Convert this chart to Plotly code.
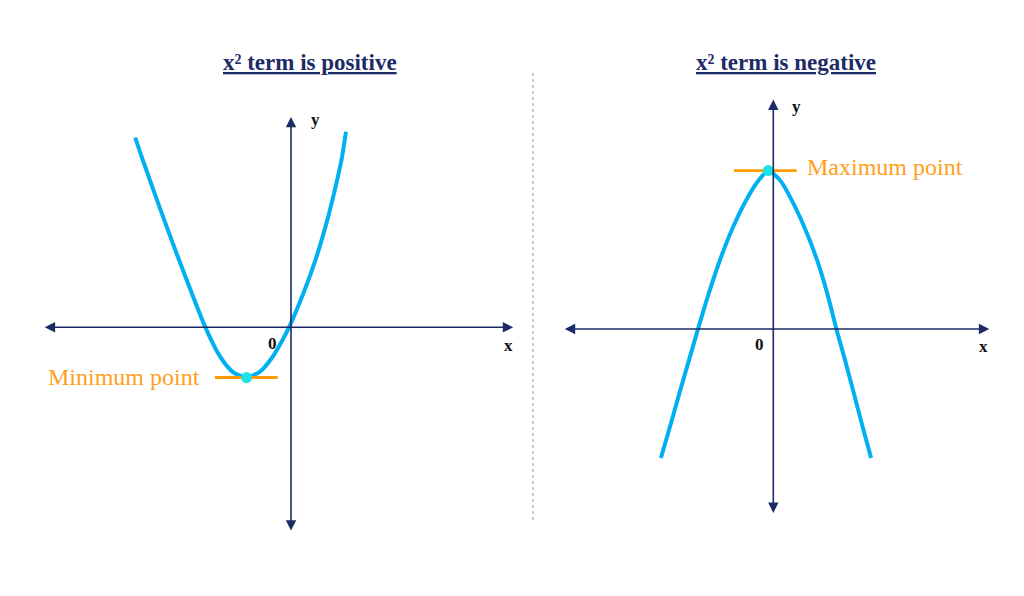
import plotly.graph_objects as go

# ---------------- data (panel coordinates, origin at axis crossing) ----------------
# Left panel: x^2 term positive (opens upward)
pos_x = [-7.79, -7.44, -6.85, -6.25, -5.63, -4.99, -4.29, -3.69, -3.24, -2.82, -2.22,
         -1.55, -0.97, -0.47, -0.09, 0.65, 1.25, 1.75, 2.17, 2.54, 2.75]
pos_y = [9.48, 8.45, 6.78, 5.12, 3.45, 1.78, 0.02, -1.22, -1.89, -2.30, -2.51,
         -2.22, -1.55, -0.72, 0.02, 1.78, 3.45, 5.12, 6.78, 8.45, 9.78]
min_pt = (-2.22, -2.51)
min_line_x = [-3.80, -0.67]

# Right panel: x^2 term negative (opens downward)
neg_x = [-5.62, -5.17, -4.70, -4.22, -3.77, -3.23, -2.67, -2.01, -1.17, -0.73, -0.25,
         0.34, 0.75, 1.55, 2.19, 2.70, 3.16, 3.59, 4.03, 4.47, 4.89]
neg_y = [-6.45, -4.90, -3.23, -1.57, -0.02, 1.77, 3.44, 5.10, 6.77, 7.44, 7.92,
         7.44, 6.77, 5.10, 3.44, 1.77, -0.02, -1.57, -3.23, -4.90, -6.45]
max_pt = (-0.25, 7.92)
max_line_x = [-1.97, 1.17]

# axis arrow extents
left_xaxis = (-12.39, 11.11)
left_yaxis = (-10.24, 10.52)
right_xaxis = (-10.50, 10.80)
right_yaxis = (-9.27, 11.47)

titles = ["x² term is positive", "x² term is negative"]
point_labels = ["Minimum point", "Maximum point"]

# ---------------- styling ----------------
NAVY = "#1c2b66"
BLUE = "#00b0f0"
CYAN = "#1de2e8"
ORANGE = "#ff9a00"
SERIF = "Liberation Serif, Times New Roman, serif"

fig = go.Figure()

# curves
fig.add_trace(go.Scatter(x=pos_x, y=pos_y, mode="lines",
                         line=dict(color=BLUE, width=4, shape="spline", smoothing=0.6),
                         xaxis="x", yaxis="y", hoverinfo="skip"))
fig.add_trace(go.Scatter(x=neg_x, y=neg_y, mode="lines",
                         line=dict(color=BLUE, width=4, shape="spline", smoothing=0.6),
                         xaxis="x2", yaxis="y2", hoverinfo="skip"))

# tangent lines at turning points
fig.add_trace(go.Scatter(x=min_line_x, y=[min_pt[1]] * 2, mode="lines",
                         line=dict(color=ORANGE, width=2.8), xaxis="x", yaxis="y", hoverinfo="skip"))
fig.add_trace(go.Scatter(x=max_line_x, y=[max_pt[1]] * 2, mode="lines",
                         line=dict(color=ORANGE, width=2.8), xaxis="x2", yaxis="y2", hoverinfo="skip"))

# turning points
fig.add_trace(go.Scatter(x=[min_pt[0]], y=[min_pt[1]], mode="markers",
                         marker=dict(color=CYAN, size=11), xaxis="x", yaxis="y", hoverinfo="skip"))
fig.add_trace(go.Scatter(x=[max_pt[0]], y=[max_pt[1]], mode="markers",
                         marker=dict(color=CYAN, size=11), xaxis="x2", yaxis="y2", hoverinfo="skip"))

annotations = []


def axis_arrows(xr, yr, xref, yref):
    common = dict(xref=xref, yref=yref, axref=xref, ayref=yref, text="", showarrow=True,
                  arrowhead=2, arrowsize=1.3, arrowwidth=1.6, arrowcolor=NAVY,
                  arrowside="end+start", standoff=0, startstandoff=0, startarrowhead=2,
                  startarrowsize=1.3)
    annotations.append(dict(x=xr[1], y=0, ax=xr[0], ay=0, **common))
    annotations.append(dict(x=0, y=yr[1], ax=0, ay=yr[0], **common))


axis_arrows(left_xaxis, left_yaxis, "x", "y")
axis_arrows(right_xaxis, right_yaxis, "x2", "y2")

lab_font = dict(family=SERIF, size=17, color="#111111")
for xref, yref, yx, yy, zx, zy, xx, xy in [
    ("x", "y", 1.2, 10.37, -0.95, -0.80, 10.85, -0.90),
    ("x2", "y2", 1.17, 11.14, -0.67, -0.75, 10.53, -0.85),
]:
    annotations.append(dict(x=yx, y=yy, xref=xref, yref=yref, text="<b>y</b>",
                            showarrow=False, font=lab_font))
    annotations.append(dict(x=zx, y=zy, xref=xref, yref=yref, text="<b>0</b>",
                            showarrow=False, font=lab_font))
    annotations.append(dict(x=xx, y=xy, xref=xref, yref=yref, text="<b>x</b>",
                            showarrow=False, font=lab_font))

# point labels
pt_font = dict(family=SERIF, size=24, color="#ff9f1c")
annotations.append(dict(x=-4.45, y=-2.47, xref="x", yref="y", text=point_labels[0],
                        showarrow=False, xanchor="right", yanchor="middle", font=pt_font))
annotations.append(dict(x=1.60, y=8.10, xref="x2", yref="y2", text=point_labels[1],
                        showarrow=False, xanchor="left", yanchor="middle", font=pt_font))

# titles
title_font = dict(family=SERIF, size=23, color=NAVY)
annotations.append(dict(x=310 / 1024, y=1 - 62 / 596, xref="paper", yref="paper",
                        text="<u><b>" + titles[0] + "</b></u>", showarrow=False,
                        xanchor="center", yanchor="middle", font=title_font))
annotations.append(dict(x=786 / 1024, y=1 - 62 / 596, xref="paper", yref="paper",
                        text="<u><b>" + titles[1] + "</b></u>", showarrow=False,
                        xanchor="center", yanchor="middle", font=title_font))

split = 520 / 1024
ax_common = dict(visible=False, showgrid=False, zeroline=False, fixedrange=True)
fig.update_layout(
    width=1024, height=596,
    margin=dict(l=0, r=0, t=0, b=0),
    paper_bgcolor="white", plot_bgcolor="white",
    showlegend=False,
    xaxis=dict(domain=[0, split], range=[-14.55, 11.45], **ax_common),
    yaxis=dict(domain=[0, 1], range=[-13.435, 16.365], **ax_common),
    xaxis2=dict(domain=[split, 1], range=[-12.665, 12.535], anchor="y2", **ax_common),
    yaxis2=dict(domain=[0, 1], range=[-13.35, 16.45], anchor="x2", **ax_common),
    annotations=annotations,
    shapes=[dict(type="line", xref="paper", yref="paper",
                 x0=533 / 1024, x1=533 / 1024, y0=1 - 520 / 596, y1=1 - 73 / 596,
                 line=dict(color="#8f98ad", width=1, dash="dot"))],
)

fig.write_html("out.html", config={"displayModeBar": False},
               post_script="document.body.style.margin='0';")
